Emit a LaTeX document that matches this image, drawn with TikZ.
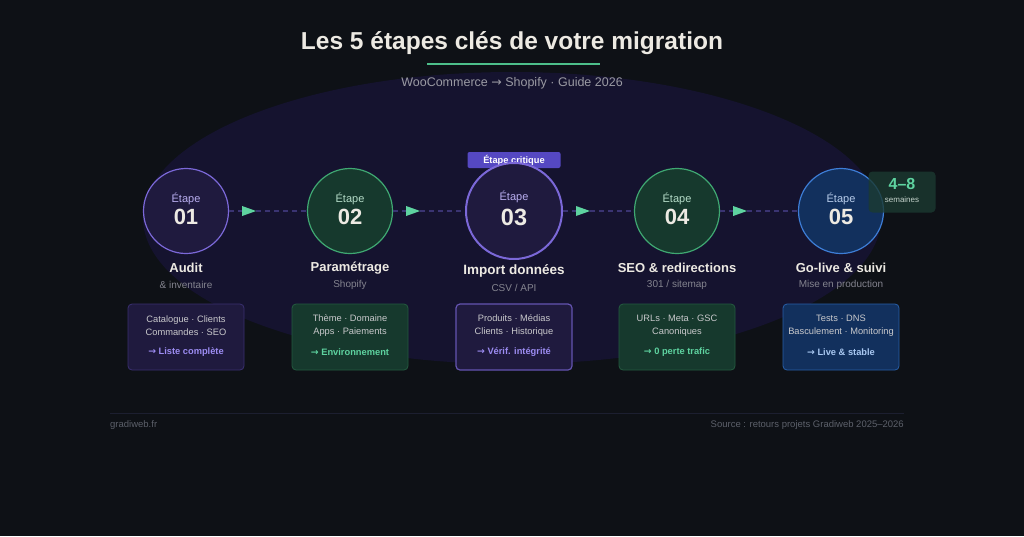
\documentclass[tikz,border=0pt]{standalone}
\usepackage{fontspec}
\setmainfont{Liberation Sans}
\newfontfamily\arrowfont{DejaVu Sans}
\newcommand{\rarr}{{\arrowfont →}}
\usetikzlibrary{calc}
\definecolor{bgc}{HTML}{0E1116}
\definecolor{ellc}{HTML}{15132F}
\definecolor{titlec}{HTML}{EDEAE3}
\definecolor{subc}{HTML}{9A9AA3}
\definecolor{mutec}{HTML}{84848F}
\definecolor{agreen}{HTML}{5ED3A0}
\definecolor{ulgreen}{HTML}{4DBF8A}
\definecolor{pfill}{HTML}{1F1A3E}
\definecolor{pdraw}{HTML}{7B68D8}
\definecolor{pbox}{HTML}{3A3070}
\definecolor{ptext}{HTML}{9C8CF2}
\definecolor{plabel}{HTML}{B9AEF0}
\definecolor{gfill}{HTML}{16392D}
\definecolor{gdraw}{HTML}{3FA872}
\definecolor{gbox}{HTML}{245A40}
\definecolor{glabel}{HTML}{B5DCC8}
\definecolor{bfill}{HTML}{12305D}
\definecolor{bdraw}{HTML}{3D7DD6}
\definecolor{bbox}{HTML}{285FA8}
\definecolor{btext}{HTML}{A9C8F2}
\definecolor{blabel}{HTML}{B8CDEB}
\definecolor{dashc}{HTML}{3A3472}
\definecolor{badgec}{HTML}{5548C2}
\definecolor{boxtxt}{HTML}{C9C9CC}
\definecolor{footc}{HTML}{5C606A}
\definecolor{footl}{HTML}{1C1F30}
\definecolor{wkfill}{HTML}{1B3A31}
\definecolor{wktxt}{HTML}{C5D3CC}
\tikzset{
  stepcirc/.style={circle, minimum size=85pt, inner sep=0pt, line width=1.2pt},
  critcirc/.style={circle, minimum size=96pt, inner sep=0pt, line width=2pt, draw=pdraw, fill=pfill},
  pcirc/.style={stepcirc, draw=pdraw, fill=pfill},
  gcirc/.style={stepcirc, draw=gdraw, fill=gfill},
  bcirc/.style={stepcirc, draw=bdraw, fill=bfill},
  etq/.style={font=\fontsize{11}{13}\selectfont, inner sep=0pt},
  num/.style={font=\fontsize{22}{24}\selectfont\bfseries, text=titlec, inner sep=0pt},
  sttitle/.style={font=\fontsize{13}{15}\selectfont\bfseries, text=titlec, inner sep=0pt},
  stsub/.style={font=\fontsize{10}{12}\selectfont, text=mutec, inner sep=0pt},
  stepbox/.style={rectangle, rounded corners=4pt, minimum width=116pt, minimum height=66pt, line width=0.8pt, inner sep=0pt},
  pbx/.style={stepbox, fill=pfill, draw=pbox},
  gbx/.style={stepbox, fill=gfill, draw=gbox},
  bbx/.style={stepbox, fill=bfill, draw=bbox},
  boxlines/.style={font=\fontsize{9.3}{13}\selectfont, text=boxtxt, align=center, inner sep=0pt},
  boxres/.style={font=\fontsize{9.3}{11}\selectfont\bfseries, inner sep=0pt},
  dashline/.style={draw=dashc, line width=1.2pt, dash pattern=on 5pt off 4pt},
  tri/.style={fill=agreen},
}
\begin{document}
\begin{tikzpicture}[x=1pt,y=-1pt]
\useasboundingbox (0,0) rectangle (1024,536);
\fill[bgc] (0,0) rectangle (1024,536);
\fill[ellc] (512,218) ellipse [x radius=369, y radius=146];

% title
\node[font=\fontsize{24.5}{28}\selectfont\bfseries, text=titlec, inner sep=0pt] (title) at (512,43) {Les 5 étapes clés de votre migration};
\draw[ulgreen, line width=2pt] (427,64) -- (600,64);
\node[font=\fontsize{12.5}{15}\selectfont, text=subc, inner sep=0pt] (sub) at (512,83) {WooCommerce \rarr{} Shopify · Guide 2026};

% badge (under circle 3)
\node[fill=badgec, rounded corners=2pt, minimum width=93pt, minimum height=16pt, inner sep=0pt, font=\fontsize{9.3}{11}\selectfont\bfseries, text=white] (badge) at (514,160) {Étape critique};

% circles
\node[pcirc] (c1) at (186,211) {};
\node[gcirc] (c2) at (350,211) {};
\node[critcirc] (c3) at (514,211) {};
\node[gcirc] (c4) at (677,211) {};
\node[bcirc] (c5) at (841,211) {};

% connectors
\foreach \a/\b in {c1/c2,c2/c3,c3/c4,c4/c5}{
  \draw[dashline] (\a.east) -- (\b.west);
  \fill[tri] ($(\a.east)+(13,-5)$) -- ++(14,5) -- ++(-14,5) -- cycle;
}

% circle labels
\node[etq, text=plabel] (e1) at (186,199) {Étape};
\node[num] (n1) at (186,217) {01};
\node[etq, text=glabel] (e2) at (350,199) {Étape};
\node[num] (n2) at (350,217) {02};
\node[etq, text=plabel] (e3) at (514,197) {Étape};
\node[num, font=\fontsize{23.5}{26}\selectfont\bfseries] (n3) at (514,217) {03};
\node[etq, text=glabel] (e4) at (677,199) {Étape};
\node[num] (n4) at (677,217) {04};
\node[etq, text=blabel] (e5) at (841,199) {Étape};
\node[num] (n5) at (841,217) {05};

% weeks badge
\node[fill=wkfill, fill opacity=0.8, rounded corners=4pt, minimum width=67pt, minimum height=41pt, inner sep=0pt] (wk) at (902,192) {};
\node[font=\fontsize{16}{18}\selectfont\bfseries, text=agreen, inner sep=0pt] (wk1) at (902,184) {4–8};
\node[font=\fontsize{8}{9}\selectfont, text=wktxt, inner sep=0pt] (wk2) at (902,200) {semaines};

% step titles
\node[sttitle] (t1) at (186,268) {Audit};
\node[stsub] (s1) at (186,285) {\& inventaire};
\node[sttitle] (t2) at (350,268) {Paramétrage};
\node[stsub] (s2) at (350,285) {Shopify};
\node[sttitle, font=\fontsize{13.5}{15}\selectfont\bfseries] (t3) at (514,271) {Import données};
\node[stsub] (s3) at (514,288) {CSV / API};
\node[sttitle] (t4) at (677,268) {SEO \& redirections};
\node[stsub] (s4) at (677,285) {301 / sitemap};
\node[sttitle] (t5) at (841,268) {Go-live \& suivi};
\node[stsub] (s5) at (841,285) {Mise en production};

% boxes
\node[pbx] (b1) at (186,337) {};
\node[gbx] (b2) at (350,337) {};
\node[pbx, draw=pdraw!75!pfill, line width=1.2pt] (b3) at (514,337) {};
\node[gbx] (b4) at (677,337) {};
\node[bbx] (b5) at (841,337) {};

\node[boxlines] (l1) at (186,325.5) {Catalogue · Clients\\Commandes · SEO};
\node[boxres, text=ptext] (r1) at (186,352) {\rarr{} Liste complète};
\node[boxlines] (l2) at (350,325.5) {Thème · Domaine\\Apps · Paiements};
\node[boxres, text=agreen] (r2) at (350,352) {\rarr{} Environnement};
\node[boxlines] (l3) at (514,325.5) {Produits · Médias\\Clients · Historique};
\node[boxres, text=ptext] (r3) at (514,352) {\rarr{} Vérif. intégrité};
\node[boxlines] (l4) at (677,325.5) {URLs · Meta · GSC\\Canoniques};
\node[boxres, text=agreen] (r4) at (677,352) {\rarr{} 0 perte trafic};
\node[boxlines] (l5) at (841,325.5) {Tests · DNS\\Basculement · Monitoring};
\node[boxres, text=btext] (r5) at (841,352) {\rarr{} Live \& stable};

% footer
\draw[footl, line width=0.8pt] (110,413) -- (904,413);
\node[anchor=west, font=\fontsize{9.5}{11}\selectfont, text=footc, inner sep=0pt] (fl) at (110,425) {gradiweb.fr};
\node[anchor=east, font=\fontsize{9.5}{11}\selectfont, text=footc, inner sep=0pt] (fr) at (904,425) {Source : retours projets Gradiweb 2025–2026};
\end{tikzpicture}
\end{document}
